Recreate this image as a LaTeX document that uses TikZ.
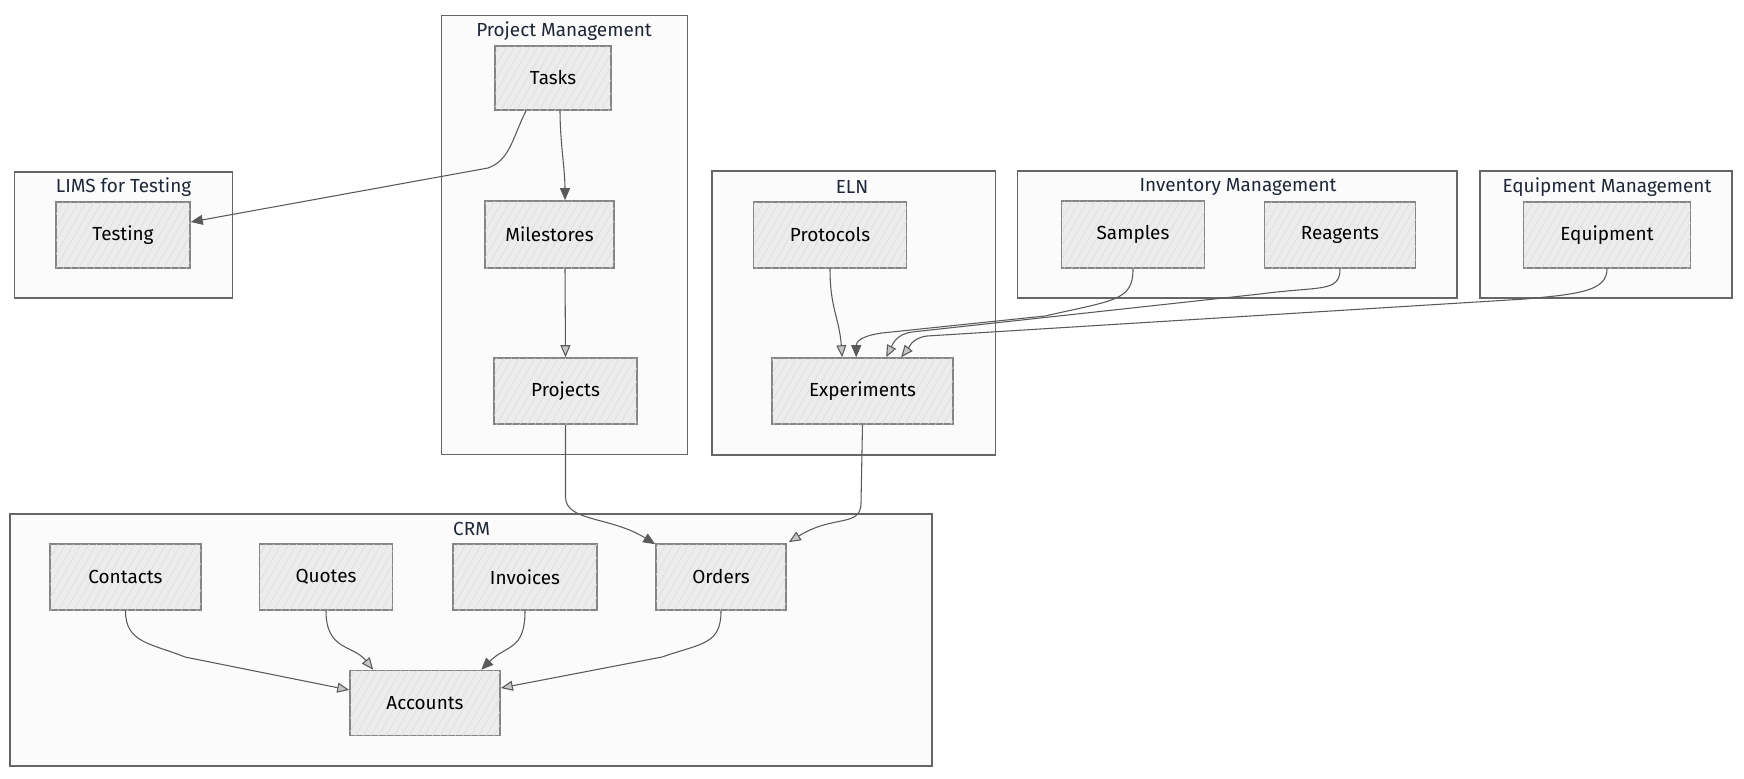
\documentclass[tikz,border=0pt]{standalone}
\usepackage{fontspec}
\setmainfont{Fira Sans}
\usetikzlibrary{arrows.meta,patterns.meta,calc}
\definecolor{edgec}{HTML}{5A5A5A}
\definecolor{nodefill}{HTML}{ECECEC}
\definecolor{nodedraw}{HTML}{858585}
\definecolor{clfill}{HTML}{FBFBFB}
\definecolor{cldraw}{HTML}{666666}
\definecolor{titlec}{HTML}{1E2638}
\tikzset{
  box/.style={draw=nodedraw, line width=1.2pt, fill=nodefill, font=\fontsize{14.2}{17}\selectfont,
    inner sep=0pt,
    postaction={pattern={Lines[angle=60,distance=5pt,line width=0.35pt]}, pattern color=gray!30}},
  cluster/.style={draw=cldraw, line width=0.8pt, fill=clfill},
  ctitle/.style={text=titlec, font=\fontsize{14.2}{17}\selectfont, inner sep=0pt},
  conn/.style={draw=edgec, line width=0.8pt},
  fa/.style={conn, -{Triangle[length=9pt,width=7.5pt,fill=edgec]}},
  ha/.style={conn, -{Triangle[length=9pt,width=7.5pt,fill=gray!45]}},
}
\begin{document}
\begin{tikzpicture}[x=0.75pt,y=-0.75pt]
\useasboundingbox[fill=white] (0,0) rectangle (1744,778);

% clusters
\draw[cluster] (441.5,15.6) rectangle (687.3,454.9);
\node[ctitle] (tpm) at (564,31) {Project Management};
\draw[cluster] (14.5,172) rectangle (232.5,298);
\node[ctitle] (tlims) at (123.5,187) {LIMS for Testing};
\draw[cluster] (712,171) rectangle (995.4,455);
\node[ctitle] (teln) at (852,187) {ELN};
\draw[cluster] (1017.7,171) rectangle (1457,298);
\node[ctitle] (tinv) at (1238,187) {Inventory Management};
\draw[cluster] (1480,171) rectangle (1732,298);
\node[ctitle] (teq) at (1607,187) {Equipment Management};
\draw[cluster] (10,514) rectangle (932,766);
\node[ctitle] (tcrm) at (471.6,529) {CRM};

% nodes
\node[box, minimum width=116*0.75pt, minimum height=64*0.75pt] (tasks) at (553,78) {Tasks};
\node[box, minimum width=129*0.75pt, minimum height=67*0.75pt] (mile) at (549.5,234.5) {Milestores};
\node[box, minimum width=143*0.75pt, minimum height=66*0.75pt] (proj) at (565.5,391) {Projects};
\node[box, minimum width=134*0.75pt, minimum height=66*0.75pt] (testing) at (123,235) {Testing};
\node[box, minimum width=153*0.75pt, minimum height=66*0.75pt] (prot) at (830,235) {Protocols};
\node[box, minimum width=181*0.75pt, minimum height=66*0.75pt] (exp) at (862.5,391) {Experiments};
\node[box, minimum width=143*0.75pt, minimum height=67*0.75pt] (samples) at (1133,234.5) {Samples};
\node[box, minimum width=151*0.75pt, minimum height=66*0.75pt] (reag) at (1340,235) {Reagents};
\node[box, minimum width=167*0.75pt, minimum height=66*0.75pt] (equip) at (1607,235) {Equipment};
\node[box, minimum width=151*0.75pt, minimum height=66*0.75pt] (contacts) at (125.5,577) {Contacts};
\node[box, minimum width=133*0.75pt, minimum height=66*0.75pt] (quotes) at (326,577) {Quotes};
\node[box, minimum width=144*0.75pt, minimum height=66*0.75pt] (invoices) at (525,577) {Invoices};
\node[box, minimum width=130*0.75pt, minimum height=66*0.75pt] (orders) at (721,577) {Orders};
\node[box, minimum width=150*0.75pt, minimum height=65*0.75pt] (accounts) at (425,703) {Accounts};

% edges
\draw[fa] ($(tasks.south)+(7,0)$) .. controls +(0,30) and +(0,-30) .. ($(mile.north)+(15.5,0)$);
\draw[fa] ($(tasks.south)+(-27,0)$) .. controls +(-14,28) and +(22,-8) .. (488,168) -- ($(testing.east)+(0,-13)$);
\draw[ha] ($(mile.south)+(15.5,0)$) -- (proj.north);
\draw[fa] (proj.south) -- ++(0,72) .. controls +(0,25) and +(-45,-28) .. ($(orders.north west)+(0,1)$);
\draw[ha] (exp.south) -- ++(-1.5,78) .. controls +(0,25) and +(45,-28) .. ($(orders.north east)+(2,-1)$);
\draw[ha] (prot.south) .. controls +(0,40) and +(-3,-40) .. ($(exp.north west)+(71,0)$);
\draw[fa] (samples.south) .. controls +(0,32) and +(70,-16) .. (1045,316) -- (882,333) .. controls +(-22,3) and +(0,-15) .. ($(exp.north west)+(85,0)$);
\draw[ha] (reag.south) .. controls +(0,24) and +(60,-8) .. (1260,294) -- (912,332) .. controls +(-16,2) and +(6,-12) .. ($(exp.north west)+(115,0)$);
\draw[ha] (equip.south) .. controls +(0,22) and +(55,-5) .. (1525,299) -- (927,336) .. controls +(-15,2) and +(8,-10) .. ($(exp.north west)+(130,0)$);

\draw[ha] (contacts.south) .. controls +(0,32) and +(-35,-14) .. (185,657) -- ($(accounts.west)+(0,-13)$);
\draw[ha] (quotes.south) .. controls +(0,40) and +(-20,-25) .. ($(accounts.north west)+(24,0)$);
\draw[fa] (invoices.south) .. controls +(0,40) and +(25,-25) .. ($(accounts.north east)+(-19.5,0)$);
\draw[ha] (orders.south) .. controls +(0,34) and +(40,-14) .. (662,657) -- ($(accounts.east)+(0,-15)$);
\end{tikzpicture}
\end{document}
